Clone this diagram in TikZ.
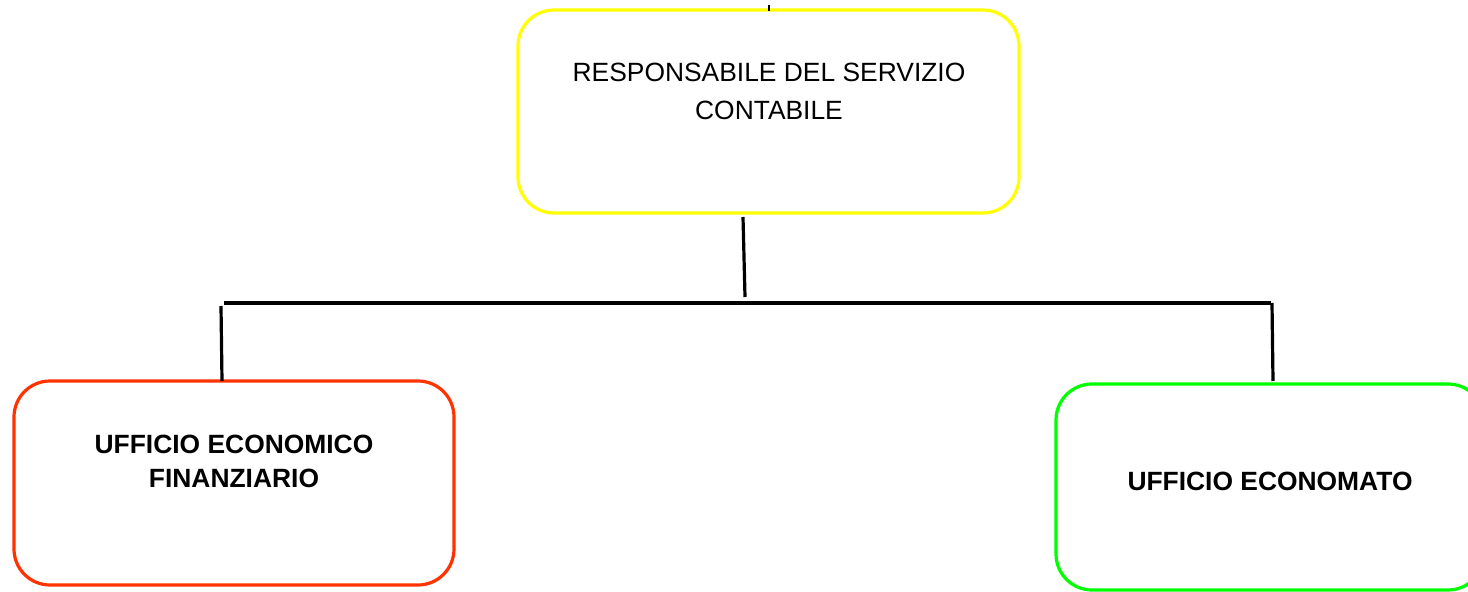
\documentclass[tikz,border=0pt]{standalone}
\usepackage{fontspec}
\setmainfont{Liberation Sans}
\definecolor{boxyellow}{RGB}{255,255,0}
\definecolor{boxred}{RGB}{255,51,0}
\definecolor{boxgreen}{RGB}{0,255,0}
\begin{document}
\begin{tikzpicture}[x=1pt,y=-1pt,
  box/.style={draw, line width=3.2pt, rounded corners=36pt, fill=white, inner sep=0pt, outer sep=0pt},
  conn/.style={line width=3.2pt, black},
  txt/.style={font=\fontsize{26.4}{38}\selectfont, align=center, inner sep=0pt},
  btxt/.style={font=\fontsize{26.4}{34}\selectfont\bfseries, align=center, inner sep=0pt}]
\useasboundingbox (0,0) rectangle (1468,592);
% boxes
\node[box, draw=boxyellow, minimum width=501pt, minimum height=203pt] (top) at (768.5,111.5) {};
\node[box, draw=boxred, minimum width=440pt, minimum height=204pt] (left) at (234,483) {};
\node[box, draw=boxgreen, minimum width=428pt, minimum height=206pt] (right) at (1270,487) {};
% texts
\node[txt] (toptext) at (769,91) {RESPONSABILE DEL SERVIZIO\\CONTABILE};
\node[btxt] (lefttext) at (234,461) {UFFICIO ECONOMICO\\FINANZIARIO};
\node[btxt] (righttext) at (1270,481) {UFFICIO ECONOMATO};
% connector points
\coordinate (tick1) at (769,5);
\coordinate (tick2) at (769,11);
\coordinate (stemtop) at (743,217);
\coordinate (stembot) at (745,297);
\coordinate (hl) at (224,303);
\coordinate (hr) at (1271,303);
\coordinate (ltop) at (221,306);
\coordinate (lbot) at (222,381);
\coordinate (rtop) at (1272,303);
\coordinate (rbot) at (1273,381);
% connectors
\draw[line width=1.5pt] (tick1) -- (tick2);
\draw[conn] (stemtop) -- (stembot);
\draw[conn] (hl) -- (hr);
\draw[conn] (ltop) -- (lbot);
\draw[conn] (rtop) -- (rbot);
\end{tikzpicture}
\end{document}
